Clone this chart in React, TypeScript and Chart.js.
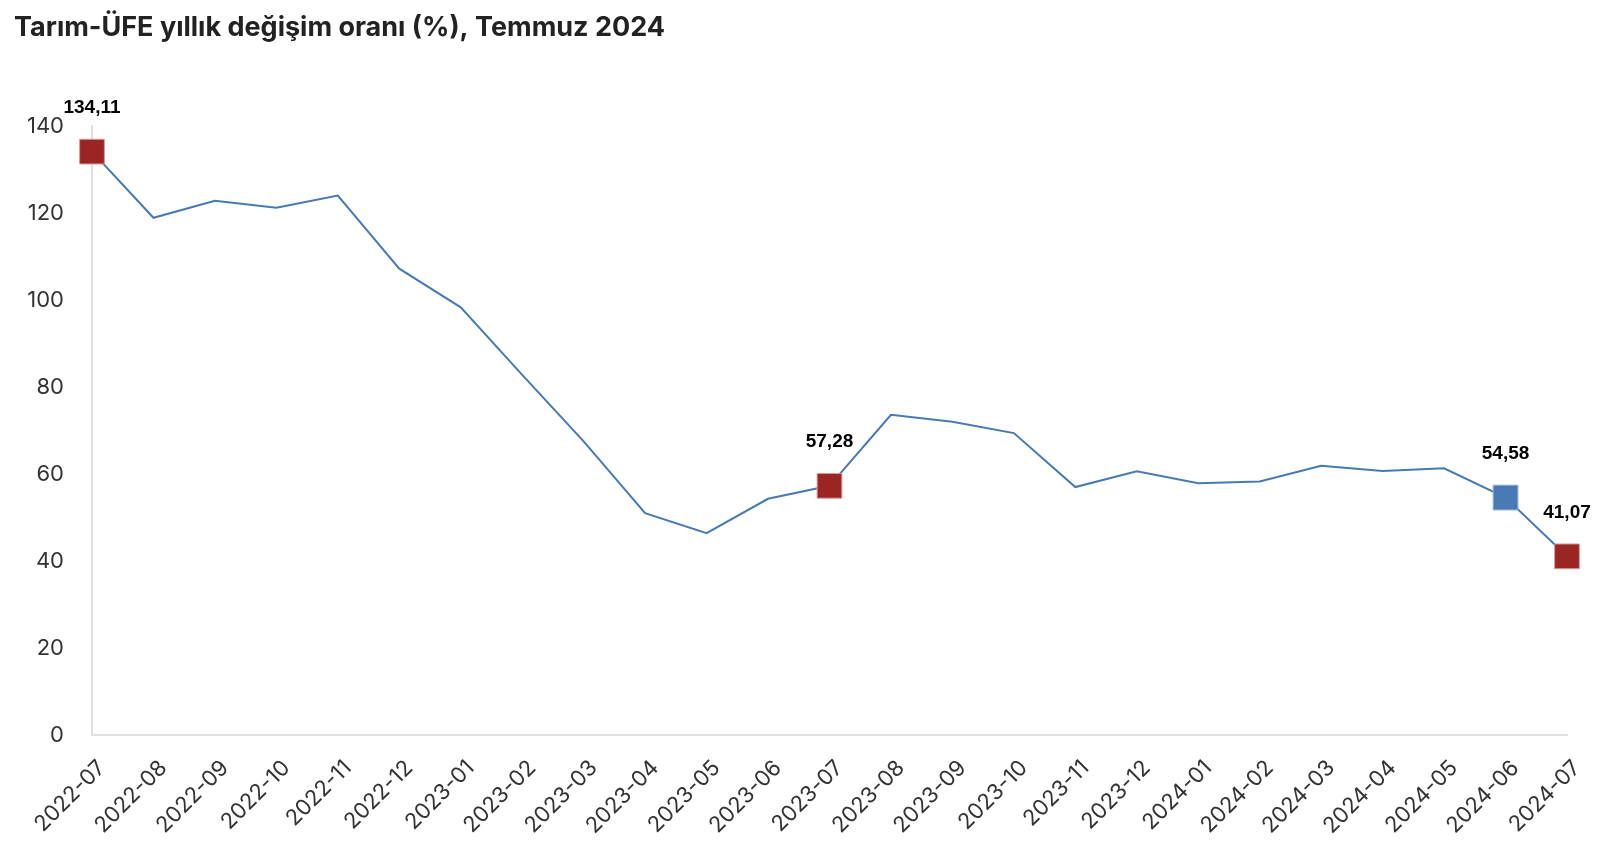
import React, { useEffect, useRef } from "react";
import { Chart, registerables } from "chart.js";

Chart.register(...registerables);

const TITLE = "Tarım-ÜFE yıllık değişim oranı (%), Temmuz 2024";

const categories = [
  "2022-07", "2022-08", "2022-09", "2022-10", "2022-11", "2022-12",
  "2023-01", "2023-02", "2023-03", "2023-04", "2023-05", "2023-06",
  "2023-07", "2023-08", "2023-09", "2023-10", "2023-11", "2023-12",
  "2024-01", "2024-02", "2024-03", "2024-04", "2024-05", "2024-06", "2024-07",
];

const values = [
  134.11, 118.9, 122.8, 121.2, 124.0, 107.2,
  98.3, 82.8, 67.5, 51.0, 46.4, 54.3,
  57.28, 73.6, 72.0, 69.4, 57.0, 60.6,
  57.9, 58.3, 61.9, 60.7, 61.3, 54.58, 41.07,
];

const redMarkers = ["2022-07", "2023-07", "2024-07"];
const blueMarkers = ["2024-06"];
const labeledPoints = ["2022-07", "2023-07", "2024-06", "2024-07"];

const yTicks = [0, 20, 40, 60, 80, 100, 120, 140];

const LINE_BLUE = "#4679b6";
const MARK_RED = "#9b2523";
const MARK_BLUE = "#4a7ab4";

const fmt = (v: number) => v.toFixed(2).replace(".", ",");

const labelPlugin = {
  id: "pointLabels",
  afterDatasetsDraw(chart: any) {
    const meta = chart.getDatasetMeta(0);
    const ctx = chart.ctx;
    ctx.save();
    ctx.font = "bold 19px 'Liberation Sans', Arial, sans-serif";
    ctx.fillStyle = "#000";
    ctx.textAlign = "center";
    ctx.textBaseline = "middle";
    labeledPoints.forEach((c) => {
      const i = categories.indexOf(c);
      const el = meta.data[i];
      if (!el) return;
      ctx.fillText(fmt(values[i]), el.x, el.y - 44);
    });
    ctx.restore();
  },
};

export default function App() {
  const ref = useRef<HTMLCanvasElement>(null);

  useEffect(() => {
    if (!ref.current) return;
    const pointColors = categories.map((c) =>
      redMarkers.includes(c) ? MARK_RED : blueMarkers.includes(c) ? MARK_BLUE : LINE_BLUE
    );
    const pointBorders = categories.map((c) =>
      redMarkers.includes(c) ? "#d99a98" : blueMarkers.includes(c) ? "#8fb0d8" : LINE_BLUE
    );
    const radii = categories.map((c) =>
      redMarkers.includes(c) || blueMarkers.includes(c) ? 17.5 : 0
    );
    const chart = new Chart(ref.current, {
      type: "line",
      data: {
        labels: categories,
        datasets: [
          {
            data: values,
            borderColor: LINE_BLUE,
            borderWidth: 2,
            tension: 0,
            pointStyle: "rect",
            pointRadius: radii,
            pointHoverRadius: radii,
            pointBackgroundColor: pointColors,
            pointBorderColor: pointBorders,
            pointBorderWidth: 1,
            clip: false as any,
          },
        ],
      },
      options: {
        animation: false,
        responsive: false,
        layout: { padding: { left: 14, right: 57, top: 0, bottom: 0 } },
        plugins: {
          legend: { display: false },
          tooltip: { enabled: false },
          title: {
            display: true,
            text: TITLE,
            align: "start",
            color: "#222",
            font: { family: "Inter, 'Liberation Sans', sans-serif", size: 27, weight: "bold" },
            padding: { top: 12, bottom: 81.6 },
          },
        },
        scales: {
          x: {
            offset: false,
            grid: { display: false, drawTicks: false },
            border: { display: true, color: "#e0e0e0", width: 2 },
            ticks: {
              color: "#333",
              font: { family: "Inter, 'Liberation Sans', sans-serif", size: 22 },
              maxRotation: 45,
              minRotation: 45,
              autoSkip: false,
              padding: 20,
              labelOffset: 10,
            },
            afterFit: (s: any) => {
              s.height = 123;
            },
          },
          y: {
            min: 0,
            max: 140,
            grid: { display: false, drawTicks: false },
            border: { display: true, color: "#e0e0e0", width: 2 },
            afterBuildTicks: (s: any) => {
              s.ticks = yTicks.map((v) => ({ value: v }));
            },
            ticks: {
              color: "#333",
              font: { family: "Inter, 'Liberation Sans', sans-serif", size: 22 },
              padding: 28,
            },
            afterFit: (s: any) => {
              s.width = 78;
            },
          },
        },
      },
      plugins: [labelPlugin],
    });
    return () => chart.destroy();
  }, []);

  return (
    <div style={{ position: "fixed", left: 0, top: 0, width: 1624, height: 858, background: "#fff" }}>
      <canvas ref={ref} width={1624} height={858} />
    </div>
  );
}
